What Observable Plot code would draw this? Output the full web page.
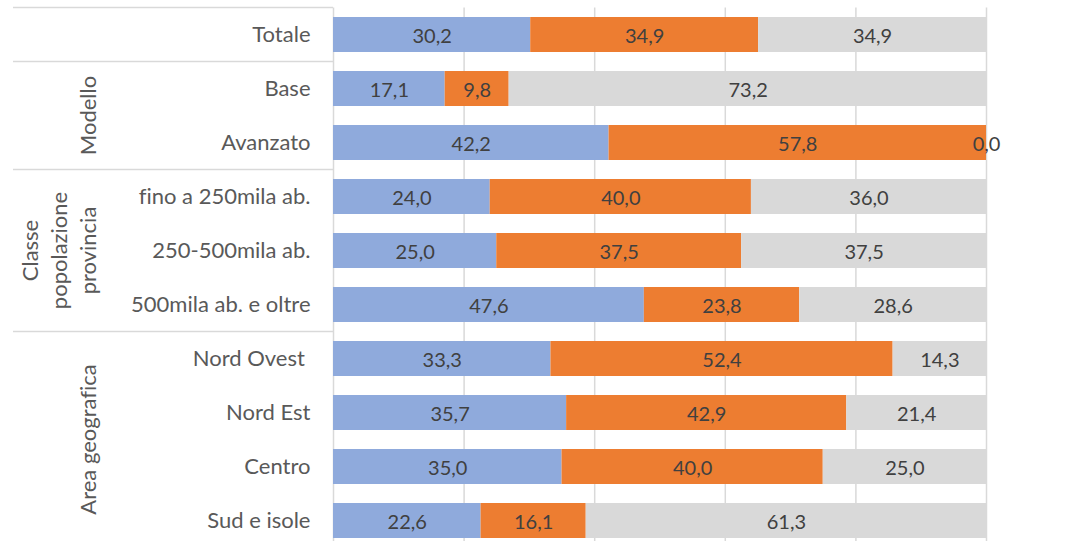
<!DOCTYPE html>
<html>
<head>
<meta charset="utf-8">
<script src="https://cdn.jsdelivr.net/npm/d3@7"></script>
<script src="https://cdn.jsdelivr.net/npm/@observablehq/plot@0.6"></script>
<style>
  html, body { margin: 0; padding: 0; background: #fff; overflow: hidden; }
  #chart svg { display: block; }
  #chart svg text { font-variant-ligatures: none; font-feature-settings: "liga" 0; }
</style>
</head>
<body>
<div id="chart"></div>
<script>
// ---- data ----
const categories = [
  "Totale",
  "Base", "Avanzato",
  "fino a 250mila ab.", "250-500mila ab.", "500mila ab. e oltre",
  "Nord Ovest\u00A0", "Nord Est", "Centro", "Sud e isole"
];
const seriesNames = ["Serie 1", "Serie 2", "Serie 3"];
const serie1 = [30.2, 17.1, 42.2, 24.0, 25.0, 47.6, 33.3, 35.7, 35.0, 22.6];
const serie2 = [34.9,  9.8, 57.8, 40.0, 37.5, 23.8, 52.4, 42.9, 40.0, 16.1];
const serie3 = [34.9, 73.2,  0.0, 36.0, 37.5, 28.6, 14.3, 21.4, 25.0, 61.3];
const seriesColors = ["#8FAADC", "#ED7D31", "#D9D9D9"];
const xTicks = [0, 20, 40, 60, 80, 100];

const groups = [
  { lines: ["Modello"], first: "Base", last: "Avanzato" },
  { lines: ["Classe", "popolazione", "provincia"], first: "fino a 250mila ab.", last: "500mila ab. e oltre" },
  { lines: ["Area geografica"], first: "Nord Ovest\u00A0", last: "Sud e isole" }
];
const separatorsAfter = ["Totale", "Avanzato", "500mila ab. e oltre"];

const seriesValues = [serie1, serie2, serie3];
const rows = [];
categories.forEach((c, i) => {
  seriesNames.forEach((s, j) => rows.push({ cat: c, series: s, value: seriesValues[j][i] }));
});

const fmt = v => d3.format(".1f")(v).replace(".", ",");
const FONT = "Lato, 'Open Sans', sans-serif";

const chart = Plot.plot({
  width: 1077,
  height: 548,
  marginLeft: 333,
  marginRight: 91,
  marginTop: 7.5,
  marginBottom: 0.5,
  style: { fontFamily: FONT, fontSize: "20px", background: "#fff", overflow: "visible" },
  x: { domain: [0, 100], axis: null },
  y: { domain: categories, paddingInner: 0.35, paddingOuter: 0.175, label: null },
  color: { domain: seriesNames, range: seriesColors },
  marks: [
    Plot.ruleX(xTicks, { stroke: "#D9D9D9", strokeWidth: 1.5 }),
    Plot.barX(rows, Plot.stackX({ x: "value", y: "cat", fill: "series", order: seriesNames })),
    Plot.text(rows, Plot.stackX({
      x: "value", y: "cat", z: "series", order: seriesNames,
      text: d => fmt(d.value), fill: "#404040", fontSize: 20, dy: 2
    })),
    Plot.axisY({ tickSize: 0, tickPadding: 23, label: null, fontSize: 22, color: "#595959" })
  ]
});

document.getElementById("chart").appendChild(chart);

// ---- group labels and separators, positioned via Plot's y scale ----
const ys = chart.scale("y");
const step = ys.step;
const center = c => ys.apply(c) + ys.bandwidth / 2;
const svg = d3.select(chart);
const g = svg.append("g");

const sepYs = [center(categories[0]) - step / 2].concat(separatorsAfter.map(c => center(c) + step / 2));
g.selectAll("line.sep").data(sepYs).join("line")
  .attr("x1", 13).attr("x2", 333)
  .attr("y1", d => d).attr("y2", d => d)
  .attr("stroke", "#D9D9D9").attr("stroke-width", 1.5);

groups.forEach(gr => {
  const yc = (center(gr.first) - step / 2 + center(gr.last) + step / 2) / 2;
  const t = g.append("text")
    .attr("transform", `translate(88,${yc}) rotate(-90)`)
    .attr("text-anchor", "middle")
    .attr("fill", "#595959")
    .style("font-family", FONT)
    .style("font-size", "22px");
  const n = gr.lines.length;
  gr.lines.forEach((l, i) => {
    t.append("tspan").attr("x", 0).attr("y", (i - (n - 1)) * 29).attr("dy", "0.35em").text(l);
  });
});
</script>
</body>
</html>
